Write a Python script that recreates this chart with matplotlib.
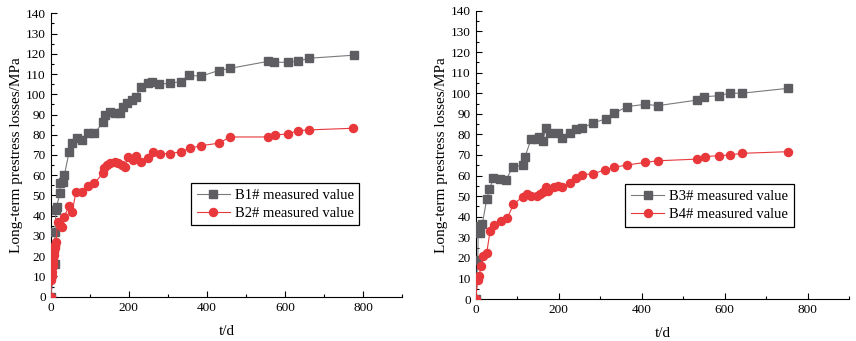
import matplotlib
matplotlib.use('Agg')
import matplotlib.pyplot as plt
from matplotlib.ticker import MultipleLocator

plt.rcParams['font.family'] = ['Liberation Serif', 'DejaVu Serif']

# time (days) and measured long-term prestress losses (MPa)
b1_t = [0, 11, 11, 13.6, 15, 24, 24, 32, 35, 47, 55.5, 66.5, 81, 96.5, 112,
        135, 139, 152, 165, 178, 186, 195, 209, 218, 231, 250, 260.5, 277.7,
        306, 334, 354.6, 384.6, 430, 460, 558, 573, 607, 633, 663, 776]
b1_v = [0, 16, 32, 42.8, 44.5, 51, 56, 56.8, 60, 71.3, 75.8, 78.3, 77.2, 80.7,
        80.7, 86.3, 89.8, 91.4, 90.9, 90.9, 93.9, 95.5, 97.2, 98.5, 103.6,
        105.4, 105.9, 105.0, 105.4, 106.3, 109.4, 108.9, 111.7, 112.8, 116.3,
        115.8, 115.8, 116.3, 117.8, 119.3]

b2_t = [0, 2, 3, 4, 5, 6, 7, 8, 9, 10, 11, 12, 13.6, 18, 24, 30, 34, 47, 55,
        65, 81, 96, 112, 135, 137.5, 143.6, 152, 165, 173, 184, 190.5, 197,
        212, 219, 231, 250, 263, 279, 306, 334, 356, 385, 430, 460, 558, 573.5,
        608, 633, 663, 774]
b2_v = [0, 8, 10, 12, 15, 17, 19, 20.5, 22, 24, 25, 25.5, 27, 37, 35.4, 34.6,
        39.2, 44.8, 42, 51.9, 51.9, 54.7, 56, 61.3, 63.4, 65, 65.9, 66.7, 65.9,
        65, 64.2, 69.2, 67.5, 69.5, 66.7, 68.4, 71.3, 70.7, 70.7, 71.6, 73.3,
        74.6, 75.8, 78.9, 78.9, 79.9, 80.4, 82, 82.4, 83.2]

b3_t = [0, 5, 6.4, 10.5, 16, 26.5, 33, 42.6, 58.7, 73, 89, 113, 119, 133.5,
        147, 153.6, 161.6, 169.6, 179, 198, 207, 227.5, 241, 255.7, 284, 313.6,
        334.5, 364, 408.4, 440.6, 534.7, 551.5, 586, 612, 641, 754]
b3_v = [0, 19, 35.6, 31.9, 36.5, 48.4, 53.3, 58.6, 58.3, 57.8, 64, 65.1, 69.2,
        77.6, 77.6, 78.9, 76.8, 83.3, 80.5, 80.5, 78.4, 80.5, 82.5, 83, 85.7,
        87.5, 90.2, 93.5, 94.6, 94, 96.7, 98.3, 98.8, 100, 100, 102.4]

b4_t = [0, 5, 9, 12, 18.5, 26.5, 34.6, 44, 60, 76, 91, 113, 123, 133.5, 147,
        155, 163, 169.6, 175, 189, 199, 209, 227.5, 241, 257, 284, 312, 333.7,
        364, 408, 440.6, 534.7, 553, 586, 612, 641, 752.5]
b4_v = [0, 9.2, 11.2, 16.2, 20.9, 22.2, 33, 35.8, 38, 39.2, 46, 49.7, 51, 50,
        50, 50.9, 52.2, 54.6, 52.7, 54.3, 55, 54.3, 56.5, 59, 60.3, 61, 62.7,
        64, 65.1, 66.4, 67.2, 68, 69.2, 69.7, 70, 70.8, 71.6]

GREY = '#5e5e62'
GREY_LINE = '#7a7a7e'
RED = '#e8383b'


def draw_panel(ax, t_sq, v_sq, t_ci, v_ci, name_sq, name_ci, leg_anchor):
    ax.plot(t_sq, v_sq, color=GREY_LINE, linewidth=0.8, marker='s',
            markersize=5.2, markerfacecolor=GREY, markeredgecolor=GREY,
            label=name_sq, zorder=3)
    ax.plot(t_ci, v_ci, color=RED, linewidth=0.8, marker='o',
            markersize=5.8, markerfacecolor=RED, markeredgecolor=RED,
            label=name_ci, zorder=4)
    ax.set_xlim(0, 900)
    ax.set_ylim(0, 140)
    ax.xaxis.set_major_locator(MultipleLocator(200))
    ax.xaxis.set_minor_locator(MultipleLocator(100))
    ax.yaxis.set_major_locator(MultipleLocator(10))
    ax.yaxis.set_minor_locator(MultipleLocator(5))
    ax.set_xticks([0, 200, 400, 600, 800])
    ax.tick_params(which='both', direction='in', labelsize=9.5, width=0.8)
    ax.tick_params(which='major', length=4)
    ax.tick_params(which='minor', length=2.5)
    for s in ('top', 'right'):
        ax.spines[s].set_visible(False)
    for s in ('left', 'bottom'):
        ax.spines[s].set_linewidth(0.8)
    ax.set_xlabel('t/d', fontsize=11, labelpad=8)
    ax.set_ylabel('Long-term prestress losses/MPa', fontsize=11, labelpad=2)
    leg = ax.legend(loc='upper left', bbox_to_anchor=leg_anchor,
                    borderaxespad=0, fontsize=10.5, fancybox=False,
                    edgecolor='black', framealpha=1, handlelength=2.3,
                    handletextpad=0.3, borderpad=0.4, labelspacing=0.3)
    leg.get_frame().set_linewidth(0.9)


fig = plt.figure(figsize=(8.56, 3.41), dpi=100)
ax1 = fig.add_axes([0.0592, 0.130, 0.4104, 0.831])
ax2 = fig.add_axes([0.5557, 0.123, 0.4361, 0.845])

draw_panel(ax1, b1_t, b1_v, b2_t, b2_v,
           'B1# measured value', 'B2# measured value', (0.399, 0.401))
draw_panel(ax2, b3_t, b3_v, b4_t, b4_v,
           'B3# measured value', 'B4# measured value', (0.40, 0.399))

fig.savefig('out.png', dpi=100)
